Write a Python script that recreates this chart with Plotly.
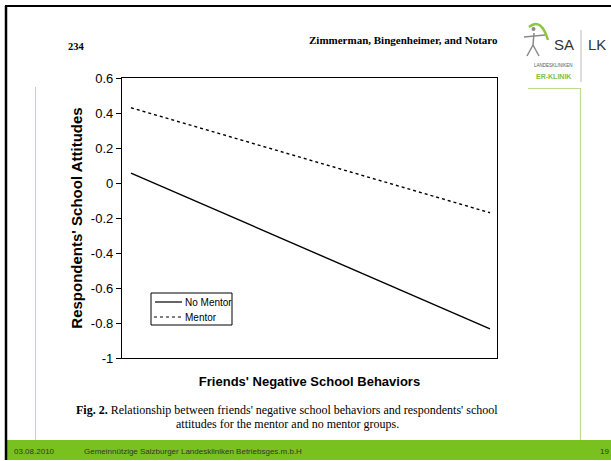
import plotly.graph_objects as go

# ---- data ----
x_levels = [0.0, 1.0]            # low / high friends' negative school behaviors
no_mentor = [0.057, -0.834]
mentor = [0.43, -0.17]
y_ticks = [0.6, 0.4, 0.2, 0, -0.2, -0.4, -0.6, -0.8, -1]
y_tick_labels = ["0.6", "0.4", "0.2", "0", "-0.2", "-0.4", "-0.6", "-0.8", "-1"]
series_names = ["No Mentor", "Mentor"]

W, H = 611, 460
L, R, T, B = 122, 497, 78, 358  # plot box in pixels


def px(x):
    return (x - L) / (R - L)


def py(y):
    return (B - y) / (B - T)


fig = go.Figure()
fig.add_trace(go.Scatter(x=x_levels, y=no_mentor, mode="lines", name=series_names[0],
                         line=dict(color="black", width=1.4)))
fig.add_trace(go.Scatter(x=x_levels, y=mentor, mode="lines", name=series_names[1],
                         line=dict(color="black", width=1.4, dash="dot")))

SANS = "Liberation Sans, Arial, sans-serif"
SERIF = "Liberation Serif, Times New Roman, serif"

shapes = []
# slide black frame (left and top)
shapes.append(dict(type="line", xref="paper", yref="paper", x0=px(6), x1=px(6), y0=py(6), y1=py(461),
                   line=dict(color="black", width=2.5)))
shapes.append(dict(type="line", xref="paper", yref="paper", x0=px(5), x1=px(611), y0=py(6), y1=py(6),
                   line=dict(color="black", width=2)))
# light green content frame
lg = "#b9de8f"
shapes.append(dict(type="line", xref="paper", yref="paper", x0=px(35.5), x1=px(35.5), y0=py(87), y1=py(440),
                   line=dict(color=lg, width=1)))
shapes.append(dict(type="line", xref="paper", yref="paper", x0=px(580.5), x1=px(580.5), y0=py(88), y1=py(440),
                   line=dict(color=lg, width=1.2)))
shapes.append(dict(type="line", xref="paper", yref="paper", x0=px(528), x1=px(581), y0=py(88.5), y1=py(88.5),
                   line=dict(color=lg, width=1.2)))
# green footer
shapes.append(dict(type="rect", xref="paper", yref="paper", x0=px(7), x1=px(611), y0=py(440), y1=py(461),
                   fillcolor="#79c11f", line=dict(width=0), layer="below"))
# logo: swoosh and stick figure
shapes.append(dict(type="path", xref="paper", yref="paper",
                   path="M {} {} Q {} {} {} {}".format(px(529), py(27), px(541), py(17), px(548), py(40)),
                   line=dict(color="#8cc63f", width=2.5)))
grey = "#8a8a8a"
for (x0, y0, x1, y1) in [(524, 37, 545, 35), (534, 33, 533, 45), (533, 45, 527, 56), (533, 45, 539, 56)]:
    shapes.append(dict(type="line", xref="paper", yref="paper", x0=px(x0), x1=px(x1), y0=py(y0), y1=py(y1),
                       line=dict(color=grey, width=1.5)))
shapes.append(dict(type="circle", xref="paper", yref="paper", x0=px(531.5), x1=px(535.5), y0=py(27), y1=py(31),
                   fillcolor=grey, line=dict(width=0)))
shapes.append(dict(type="line", xref="paper", yref="paper", x0=px(581), x1=px(581), y0=py(30), y1=py(82),
                   line=dict(color="#bbbbbb", width=1)))

# legend box (drawn like the scanned figure's legend)
shapes.append(dict(type="rect", xref="paper", yref="paper", x0=px(151), x1=px(232), y0=py(293), y1=py(325),
                   fillcolor="white", line=dict(color="black", width=1)))
shapes.append(dict(type="line", xref="paper", yref="paper", x0=px(155), x1=px(182), y0=py(302), y1=py(302),
                   line=dict(color="black", width=1.2)))
shapes.append(dict(type="line", xref="paper", yref="paper", x0=px(154), x1=px(183), y0=py(317), y1=py(317),
                   line=dict(color="black", width=1.2, dash="dot")))

annotations = []


def txt(text, x, y, size, family, color="black", xanchor="center", yanchor="middle", **kw):
    annotations.append(dict(text=text, x=px(x), y=py(y), xref="paper", yref="paper", showarrow=False,
                            xanchor=xanchor, yanchor=yanchor, font=dict(size=size, family=family, color=color), **kw))


txt(series_names[0], 183, 302, 10, SANS, xanchor="left")
txt(series_names[1], 183, 317, 10, SANS, xanchor="left")

txt("<b>234</b>", 76, 47, 10.5, SERIF)
txt("<b>Zimmerman, Bingenheimer, and Notaro</b>", 403, 40, 11, SERIF)
txt("<b>Fig. 2.</b> Relationship between friends' negative school behaviors and respondents' school",
    287, 410, 12, SERIF)
txt("attitudes for the mentor and no mentor groups.", 287, 424, 12, SERIF)
txt("03.08.2010", 12, 451, 8, SANS, color="#333333", xanchor="left")
txt("Gemeinnützige Salzburger Landeskliniken Betriebsges.m.b.H", 82, 451, 8, SANS, color="#333333",
    xanchor="left")
txt("19", 598, 451, 8, SANS, color="#333333", xanchor="left")
txt("SA", 564, 45, 15, SANS, color="#333333")
txt("LK", 597, 45, 15, SANS, color="#333333")
txt("LANDESKLINIKEN", 553, 66, 4.5, SANS, color="#555555")
txt("<b>ER-KLINIK</b>", 553, 76, 7, SANS, color="#7cc142")

fig.update_layout(
    width=W, height=H,
    margin=dict(l=L, r=W - R, t=T, b=H - B),
    paper_bgcolor="white", plot_bgcolor="white",
    showlegend=False,
    xaxis=dict(range=[-0.025, 1.0195], showline=True, mirror=True, linecolor="black", linewidth=1.3,
               showticklabels=False, ticks="", showgrid=False, zeroline=False,
               title=dict(text="<b>Friends' Negative School Behaviors</b>", standoff=18,
                          font=dict(size=13, family=SANS, color="black"))),
    yaxis=dict(range=[-1, 0.6], showline=True, mirror=True, linecolor="black", linewidth=1.3,
               tickmode="array", tickvals=y_ticks, ticktext=y_tick_labels,
               ticks="outside", ticklen=5, tickcolor="black",
               tickfont=dict(size=13, family=SANS, color="black"),
               showgrid=False, zeroline=False,
               title=dict(text="<b>Respondents' School Attitudes</b>", standoff=4,
                          font=dict(size=15, family=SANS, color="black"))),
    shapes=shapes,
    annotations=annotations,
)

fig.write_html("out.html", config={"displayModeBar": False},
               post_script=("document.body.style.margin='0';"
                            "document.body.style.overflow='hidden';"
                            "document.documentElement.style.overflow='hidden';"))
